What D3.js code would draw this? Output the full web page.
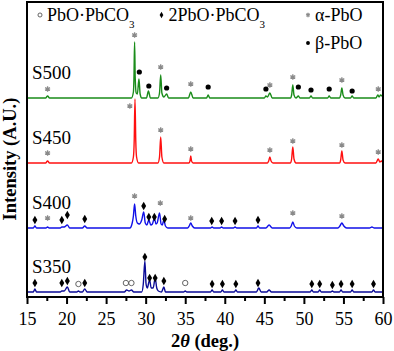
<!DOCTYPE html>
<html>
<head>
<meta charset="utf-8">
<script src="https://cdn.jsdelivr.net/npm/d3@7"></script>
<style>
  body { margin: 0; background: #fff; }
  text { font-family: "Liberation Serif", "Times New Roman", serif; }
</style>
</head>
<body>
<script>
// ---- data: [2theta, intensity (a.u.)] ----
var s500 = [[15,0],[17.35,0],[17.6,2],[17.85,0],
  [28.2,0],[28.45,6],[28.52,20],[28.6,56],[28.68,20],[28.8,5],[28.95,4],[29.15,19],[29.3,4],[29.5,0],
  [30.1,0],[30.35,7],[30.6,0],
  [31.55,0],[31.75,5],[31.9,23],[32.05,5],[32.3,1],[32.65,4],[32.9,0],
  [35.4,0],[35.7,6],[36.0,0],[37.7,0],[37.9,3],[38.1,0],
  [45.0,0],[45.2,2],[45.4,1],[45.7,5],[46.0,0],
  [48.3,0],[48.45,3],[48.6,13],[48.75,3],[49.0,0],[49.3,2],[49.5,0],
  [50.7,0],[50.9,2],[51.1,0],[53.0,0],[53.2,2],[53.4,0],
  [54.5,0],[54.65,3],[54.8,10],[54.95,3],[55.2,0],[55.9,0],[56.1,2],[56.3,0],
  [59.1,0],[59.35,3],[59.5,1],[59.7,3],[60,1]];
var s450 = [[15,0],[17.35,0],[17.6,2],[17.85,0],
  [28.2,0],[28.45,6],[28.55,22],[28.65,64],[28.75,22],[28.85,6],[29.1,0],
  [31.55,0],[31.75,6],[31.9,26],[32.05,6],[32.3,0],
  [35.45,0],[35.6,2],[35.7,7],[35.8,2],[36.0,0],
  [45.4,0],[45.55,2],[45.7,6],[45.85,2],[46.1,0],
  [48.3,0],[48.45,4],[48.6,16],[48.75,4],[49.0,0],
  [54.5,0],[54.65,3],[54.8,12],[54.95,3],[55.2,0],
  [59.1,0],[59.4,4],[59.6,1],[59.8,2],[60,0]];
var s400 = [[15,0],[15.8,0],[16.0,2],[16.2,0],[17.4,0],[17.6,1],[17.8,0],
  [19.2,0],[19.4,1],[19.7,1],[20.1,3],[20.4,0],[22.0,0],[22.3,2],[22.6,0],
  [28.0,0],[28.3,5],[28.45,12],[28.6,24],[28.75,12],[28.95,5],[29.2,4],[29.5,8],[29.75,16],[29.95,5],
  [30.15,3],[30.4,8],[30.65,3],[30.85,4],[31.1,10],[31.3,4],[31.45,5],[31.75,15],[31.95,4],[32.1,3],
  [32.3,8],[32.5,2],[32.8,0],
  [35.3,0],[35.5,2],[35.7,5],[35.9,2],[36.2,0],
  [38.2,0],[38.4,1],[38.6,0],[39.4,0],[39.6,1],[39.8,0],[41.1,0],[41.3,1],[41.5,0],
  [44.0,0],[44.2,2],[44.4,0],[45.2,0],[45.6,3],[46.0,0],
  [48.2,0],[48.4,2],[48.6,6],[48.8,2],[49.1,0],
  [54.3,0],[54.55,2],[54.8,5],[55.05,2],[55.4,0],[58.3,0],[58.6,1],[58.9,0],[60,0]];
var s350 = [[15,0],[15.8,0],[16.0,3],[16.2,0],
  [19.2,0],[19.4,1],[19.7,1],[20.1,5],[20.4,0],[21.3,0],[21.5,1],[21.7,0],[22.0,0],[22.3,3],[22.6,0],
  [27.3,0],[27.6,2],[27.9,1],[28.2,2],[28.5,0],
  [29.5,0],[29.7,8],[29.9,31],[30.05,8],[30.2,4],[30.5,12],[30.7,4],[30.95,4],[31.2,14],[31.4,4],[31.6,1],
  [32.0,0],[32.3,5],[32.5,0],[34.8,0],[35.0,1],[35.2,0],
  [38.2,0],[38.4,2],[38.6,0],[39.5,0],[39.7,2],[39.9,0],[41.2,0],[41.4,2],[41.6,0],
  [44.0,0],[44.3,4],[44.6,0],[45.3,0],[45.6,2],[45.9,0],
  [50.8,0],[51.0,2],[51.2,0],[51.8,0],[52.0,2],[52.2,0],[53.4,0],[53.6,1],[53.8,0],
  [54.5,0],[54.7,2],[54.9,0],[55.9,0],[56.1,2],[56.3,0],[58.6,0],[58.8,2],[59.0,0],[60,0]];

// phase markers: [2theta, height above the trace baseline, phase]
// c = PbO·PbCO3, d = 2PbO·PbCO3, a = alpha-PbO, b = beta-PbO
var m500 = [[17.6,9,'a'],[28.6,63,'a'],[29.2,26,'b'],[30.4,12,'b'],[31.9,31,'a'],[32.65,10,'b'],
  [35.7,14,'a'],[37.9,11,'b'],[45.2,9,'b'],[45.7,13,'a'],[48.6,21,'a'],[49.3,11,'b'],[50.9,8,'b'],
  [53.2,9,'b'],[54.8,18,'a'],[56.1,7,'b'],[59.4,9,'a']];
var m450 = [[17.6,10,'a'],[28.0,57,'a'],[31.9,33,'a'],[35.7,14,'a'],[45.7,13,'a'],[48.6,22,'a'],
  [54.8,18,'a'],[59.4,11,'a']];
var m400 = [[16.0,8,'d'],[17.6,10,'a'],[19.4,8,'d'],[20.1,13,'d'],[22.3,9,'d'],[28.6,32,'a'],
  [29.75,22,'d'],[30.4,11,'d'],[31.1,11,'d'],[31.85,25,'a'],[32.4,9,'d'],[35.7,10,'a'],
  [38.35,7,'d'],[39.6,7,'d'],[41.3,7,'d'],[44.2,8,'d'],[48.6,15,'a'],[54.8,12,'a']];
var m350 = [[16.0,9,'d'],[19.4,9,'d'],[20.1,11,'d'],[21.5,8,'c'],[22.3,9,'d'],[27.5,9,'c'],[28.2,9,'c'],
  [29.9,35,'d'],[30.5,14,'d'],[31.2,14,'d'],[32.3,11,'d'],[35.0,9,'c'],[38.4,8,'d'],[39.7,8,'d'],
  [41.4,8,'d'],[44.2,9,'d'],[51.0,8,'d'],[52.0,8,'d'],[53.6,7,'d'],[54.7,8,'d'],[56.1,8,'d'],[58.8,8,'d']];

var sampleNames = ['S500', 'S450', 'S400', 'S350'];
var sampleOffsets = [199, 134, 69, 5];
var majorTicks = [15, 20, 25, 30, 35, 40, 45, 50, 55, 60];
var minorTicks = [17.5, 22.5, 27.5, 32.5, 37.5, 42.5, 47.5, 52.5, 57.5];

var series = [s500, s450, s400, s350];
var markers = [m500, m450, m400, m350];
var colors = ['#1a8c1a', '#ff1010', '#1010e8', '#0a0a96'];

var margin = {top: 2, right: 11, bottom: 54, left: 27},
    W = 394, H = 351,
    width = W - margin.left - margin.right,
    height = H - margin.top - margin.bottom;

var svg = d3.select('body').append('svg')
    .attr('width', W).attr('height', H);

var x = d3.scaleLinear().domain([15, 60]).range([margin.left, margin.left + width]);
var y = d3.scaleLinear().domain([0, height]).range([margin.top + height, margin.top]);

svg.append('clipPath').attr('id', 'clip')
  .append('rect').attr('x', margin.left).attr('y', margin.top)
  .attr('width', width).attr('height', height);

var plot = svg.append('g').attr('clip-path', 'url(#clip)');

// traces
series.forEach(function(s, i) {
    var line = d3.line()
        .x(function(d) { return x(d[0]); })
        .y(function(d) { return y(d[1] + sampleOffsets[i]); })
        .curve(d3.curveMonotoneX);
    plot.append('path')
        .datum(s)
        .attr('fill', 'none')
        .attr('stroke', colors[i])
        .attr('stroke-width', 1.4)
        .attr('d', line);
});

// phase symbols
function drawMark(g, type, cx, cy, scale) {
    scale = scale || 1;
    if (type === 'a') {
        g.append('path')
          .attr('d', d3.symbol(d3.symbolAsterisk, 22 * scale * scale)())
          .attr('transform', 'translate(' + cx + ',' + cy + ')')
          .attr('stroke', '#8a8a8a').attr('stroke-width', 1.3).attr('fill', 'none');
    } else if (type === 'b') {
        g.append('circle').attr('cx', cx).attr('cy', cy).attr('r', 2.6 * scale).attr('fill', '#000');
    } else if (type === 'd') {
        g.append('path')
          .attr('d', d3.symbol(d3.symbolDiamond, 21 * scale * scale)())
          .attr('transform', 'translate(' + cx + ',' + cy + ')')
          .attr('fill', '#000');
    } else {
        g.append('circle').attr('cx', cx).attr('cy', cy).attr('r', 2.7 * scale)
          .attr('fill', 'none').attr('stroke', '#555').attr('stroke-width', 0.9);
    }
}
var markG = svg.append('g');
markers.forEach(function(ms, i) {
    ms.forEach(function(m) {
        drawMark(markG, m[2], x(m[0]), y(m[1] + sampleOffsets[i]));
    });
});

// sample labels
sampleNames.forEach(function(name, i) {
    svg.append('text')
      .attr('x', margin.left + 5)
      .attr('y', y(sampleOffsets[i] + 19))
      .attr('font-size', '19px')
      .text(name);
});

// frame
svg.append('rect')
  .attr('x', margin.left).attr('y', margin.top)
  .attr('width', width).attr('height', height)
  .attr('fill', 'none').attr('stroke', '#000').attr('stroke-width', 2);

// x axis ticks (outside)
var xAxis = svg.append('g')
    .attr('transform', 'translate(0,' + (margin.top + height) + ')')
    .call(d3.axisBottom(x).tickValues(majorTicks).tickSize(7).tickPadding(8).tickFormat(d3.format('d')));
xAxis.select('.domain').remove();
xAxis.selectAll('line').attr('stroke-width', 2);
xAxis.selectAll('text').attr('font-size', '18px').attr('font-family', '"Liberation Serif", serif').attr('fill', '#000');

var xMinor = svg.append('g')
    .attr('transform', 'translate(0,' + (margin.top + height) + ')')
    .call(d3.axisBottom(x).tickValues(minorTicks).tickSize(4).tickFormat(''));
xMinor.select('.domain').remove();
xMinor.selectAll('line').attr('stroke-width', 2);

// axis titles
var xt = svg.append('text')
    .attr('x', margin.left + width / 2)
    .attr('y', 347)
    .attr('text-anchor', 'middle')
    .attr('font-size', '18.5px')
    .attr('font-weight', 'bold');
xt.append('tspan').text('2');
xt.append('tspan').attr('font-style', 'italic').text('θ');
xt.append('tspan').text(' (deg.)');

svg.append('text')
  .attr('transform', 'rotate(-90)')
  .attr('x', -159)
  .attr('y', 16)
  .attr('text-anchor', 'middle')
  .attr('font-size', '18.5px')
  .attr('font-weight', 'bold')
  .text('Intensity (A.U.)');

// legend
var legend = [
  {type: 'c', x: 40, y: 15, label: 'PbO·PbCO', sub: '3'},
  {type: 'd', x: 161.5, y: 15, label: '2PbO·PbCO', sub: '3'},
  {type: 'a', x: 308, y: 15, label: 'α-PbO'},
  {type: 'b', x: 308, y: 43, label: 'β-PbO'}
];
var lg = svg.append('g');
legend.forEach(function(d) {
    drawMark(lg, d.type, d.x, d.y, 0.75);
    var t = lg.append('text')
        .attr('x', d.x + 7)
        .attr('y', d.y + 6)
        .attr('font-size', '18px')
        .text(d.label);
    if (d.sub) {
        t.append('tspan').attr('dy', 7).attr('font-size', '11px').text(d.sub);
    }
});
</script>
</body>
</html>
